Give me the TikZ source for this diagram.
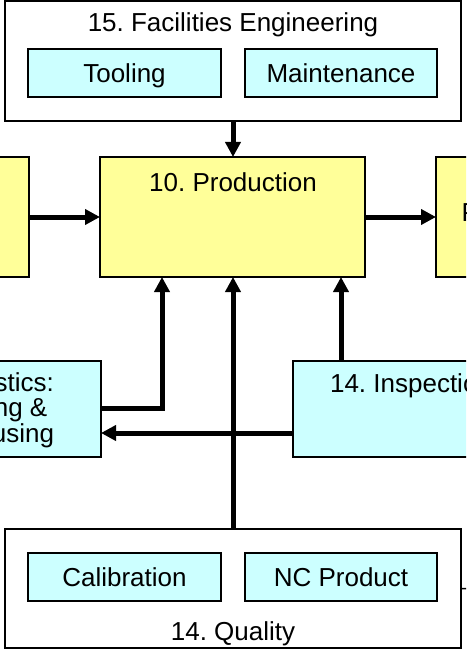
\documentclass[tikz,border=0pt]{standalone}
\usepackage{fontspec}
\setmainfont{Liberation Sans}
\usetikzlibrary{arrows.meta}
\definecolor{yfill}{HTML}{FFFF99}
\definecolor{cfill}{HTML}{CCFFFF}
\frenchspacing
\begin{document}
\begin{tikzpicture}[x=1pt,y=-1pt,
  frame/.style={draw=black, line width=1.8pt, fill=white, inner sep=0pt, outer sep=0pt},
  ybox/.style={frame, fill=yfill},
  cbox/.style={frame, fill=cfill},
  txt/.style={inner sep=0pt, outer sep=0pt, font=\fontsize{26}{26}\selectfont},
  ctxt/.style={txt, text height=18.6pt, text depth=0pt},
  conn/.style={line width=5pt, -{Triangle[length=15pt,width=15pt]}},
  thinline/.style={line width=1.5pt}]
\useasboundingbox (0,0) rectangle (466,652);
\clip (0,0) rectangle (466,652);
% top frame
\node[frame, minimum width=456pt, minimum height=120pt] (fac) at (233,61) {};
\node[txt, anchor=base] (factitle) at (233,32) {15. Facilities Engineering};
\node[cbox, ctxt, minimum width=193pt, minimum height=48pt] (tool) at (124.5,73) {Tooling};
\node[cbox, ctxt, minimum width=192pt, minimum height=48pt] (maint) at (341,73) {Maintenance};
% production row
\node[ybox, minimum width=265pt, minimum height=120pt] (prod) at (232.5,217) {};
\node[txt, anchor=base] (prodtitle) at (233,192) {10. Production};
\node[ybox, minimum width=130pt, minimum height=120pt] (leftbox) at (-36,217) {};
\node[ybox, minimum width=130pt, minimum height=120pt] (rightbox) at (501,217) {};
\node[txt, anchor=base west] (righttitle) at (461.5,222) {Packaging};
% middle row
\node[cbox, minimum width=246pt, minimum height=96pt] (log) at (-22,409) {};
\node[txt, anchor=base] (logA) at (-22,391) {13. Logistics:};
\node[txt, anchor=base] (logB) at (-22,416.5) {Receiving \&};
\node[txt, anchor=base] (logC) at (-22,442) {Warehousing};
\node[cbox, minimum width=236pt, minimum height=96pt] (insp) at (411,409) {};
\node[txt, anchor=base] (insptitle) at (411,392) {14. Inspection};
% quality frame
\node[frame, minimum width=456pt, minimum height=119pt] (qual) at (233,588.5) {};
\node[cbox, ctxt, minimum width=193pt, minimum height=48pt] (calib) at (124.5,577) {Calibration};
\node[cbox, ctxt, minimum width=192pt, minimum height=48pt] (ncp) at (341,577) {NC Product};
\node[txt, anchor=base] (qualtitle) at (233,640) {14. Quality};
\coordinate (qout) at (480,589);
% connectors
\draw[conn] (fac.south) -- (fac.south |- prod.north);
\draw[conn] (leftbox.east) -- (prod.west);
\draw[conn] (prod.east) -- (rightbox.west);
\draw[conn] ([yshift=1pt]log.east) -| ([xshift=-70.5pt]prod.south);
\draw[conn] (qual.north) -- (qual.north |- prod.south);
\draw[conn] ([xshift=-70pt]insp.north) -- ([xshift=108.5pt]prod.south);
\draw[conn] ([yshift=-24pt]insp.west) -- ([yshift=-24pt]log.east);
\draw[thinline] (qual.east) -- (qout);
\end{tikzpicture}
\end{document}
